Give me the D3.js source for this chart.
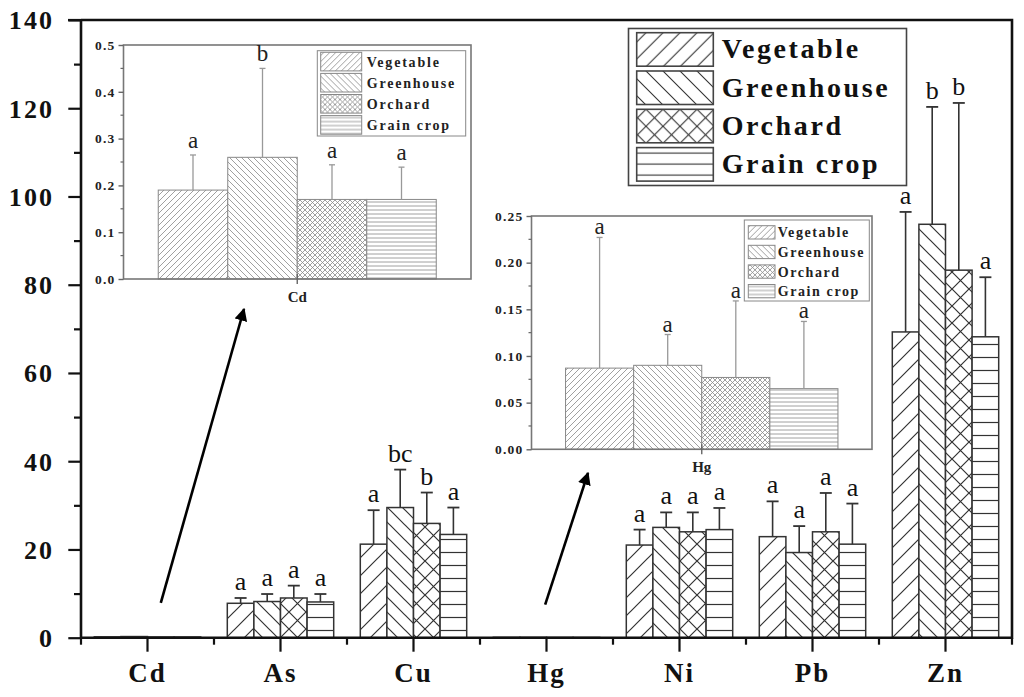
<!DOCTYPE html>
<html><head><meta charset="utf-8">
<script src="https://cdn.jsdelivr.net/npm/d3@7"></script>
<style>body{margin:0;background:#fff}svg{display:block}text{font-family:"Liberation Serif","Times New Roman",serif}</style>
</head><body><svg id="c" width="1024" height="697"></svg>
<script>
// ---------- data ----------
const elements = ["Cd","As","Cu","Hg","Ni","Pb","Zn"];
const series = ["Vegetable","Greenhouse","Orchard","Grain crop"];
const vegetable      = [0.190, 7.8, 21.2, 0.087, 21.0, 22.9, 69.3];
const greenhouse     = [0.260, 8.2, 29.5, 0.090, 25.0, 19.3, 93.7];
const orchard        = [0.170, 9.0, 25.9, 0.077, 24.0, 24.0, 83.3];
const graincrop      = [0.170, 8.1, 23.4, 0.065, 24.5, 21.2, 68.2];
// upper end of error bars
const vegetableUp    = [0.265, 9.0, 28.9, 0.227, 24.5, 30.9, 96.5];
const greenhouseUp   = [0.450, 9.9, 38.1, 0.123, 28.4, 25.3, 120.3];
const orchardUp      = [0.244, 11.8, 32.9, 0.159, 28.4, 32.8, 121.2];
const graincropUp    = [0.239, 9.9, 29.5, 0.137, 29.4, 30.4, 81.7];
// significance letters
const vegetableLet   = ["a","a","a","a","a","a","a"];
const greenhouseLet  = ["b","a","bc","a","a","a","b"];
const orchardLet     = ["a","a","b","a","a","a","b"];
const graincropLet   = ["a","a","a","a","a","a","a"];
const mainTicks  = [0,20,40,60,80,100,120,140];
const cdTicks    = [0,0.1,0.2,0.3,0.4,0.5];
const hgTicks    = [0,0.05,0.10,0.15,0.20,0.25];
const insetElements = ["Cd","Hg"];

const means = [vegetable, greenhouse, orchard, graincrop];
const ups = [vegetableUp, greenhouseUp, orchardUp, graincropUp];
const lets = [vegetableLet, greenhouseLet, orchardLet, graincropLet];
const patKeys = ["veg","grn","orc","gra"];
const rows = [];
elements.forEach((e,i)=>series.forEach((s,j)=>rows.push({el:e,s:s,j:j,v:means[j][i],up:ups[j][i],lt:lets[j][i]})));

const svg = d3.select("#c");
const defs = svg.append("defs");

function makePatterns(prefix, sizes, color, sw){
  const [a,b,c,d] = sizes;
  const mk = (id,s,path)=>{
    const p = defs.append("pattern").attr("id",prefix+id).attr("patternUnits","userSpaceOnUse").attr("width",s).attr("height",s);
    p.append("rect").attr("width",s).attr("height",s).attr("fill","#fff");
    p.append("path").attr("d",path).attr("stroke",color).attr("stroke-width",sw).attr("fill","none");
  };
  const fw = s=>`M0,${s}L${s},0M${-s/2},${s/2}L${s/2},${-s/2}M${s/2},${1.5*s}L${1.5*s},${s/2}`;
  const bw = s=>`M0,0L${s},${s}M${-s/2},${s/2}L${s/2},${1.5*s}M${s/2},${-s/2}L${1.5*s},${s/2}`;
  mk("veg",a,fw(a));
  mk("grn",b,bw(b));
  mk("orc",c,fw(c)+bw(c));
  mk("gra",d,`M0,${d/2}L${d},${d/2}`);
}
makePatterns("m-",[18,15,17,13],"#333",1.2);
makePatterns("l-",[17,17,17,11],"#333",1.1);
makePatterns("i-",[6,6,5,4],"#888",0.8);

// ---------- main chart ----------
const x = d3.scaleBand().domain(elements).range([81,1012]);
const xi = d3.scaleBand().domain(series).range([x.bandwidth()*0.1, x.bandwidth()*0.9]);
const y = d3.scaleLinear().domain([0,140]).range([637.7,20]);

const main = svg.append("g");
main.selectAll("rect.bar").data(rows).join("rect").attr("class","bar")
  .attr("x",d=>x(d.el)+xi(d.s)).attr("width",xi.bandwidth())
  .attr("y",d=>y(d.v)).attr("height",d=>y(0)-y(d.v))
  .attr("fill",d=>`url(#m-${patKeys[d.j]})`).attr("stroke","#333").attr("stroke-width",1.5);

const mainRows = rows.filter(d=>!insetElements.includes(d.el));
const eb = main.selectAll("g.eb").data(mainRows).join("g").attr("class","eb");
eb.append("line").attr("x1",d=>x(d.el)+xi(d.s)+xi.bandwidth()/2).attr("x2",d=>x(d.el)+xi(d.s)+xi.bandwidth()/2)
  .attr("y1",d=>y(d.v)).attr("y2",d=>y(d.up)).attr("stroke","#333").attr("stroke-width",1.6);
eb.append("line").attr("x1",d=>x(d.el)+xi(d.s)+xi.bandwidth()/2-6).attr("x2",d=>x(d.el)+xi(d.s)+xi.bandwidth()/2+6)
  .attr("y1",d=>y(d.up)).attr("y2",d=>y(d.up)).attr("stroke","#333").attr("stroke-width",1.8);
eb.append("text").attr("x",d=>x(d.el)+xi(d.s)+xi.bandwidth()/2).attr("y",d=>y(d.up)-8)
  .attr("text-anchor","middle").attr("font-size",26).attr("fill","#111").text(d=>d.lt);

// axes
const yAx = main.append("g").attr("transform","translate(81,0)")
  .call(d3.axisLeft(y).tickValues(mainTicks).tickSize(12.7).tickPadding(14));
const yMin = main.append("g").attr("transform","translate(81,0)")
  .call(d3.axisLeft(y).tickValues(d3.range(10,140,20)).tickSize(7).tickFormat(""));
[yAx,yMin].forEach(g=>{g.select(".domain").remove(); g.selectAll("line").attr("stroke","#111").attr("stroke-width",2.2);});
yAx.selectAll("text").attr("font-family","Liberation Serif").attr("font-weight","bold").attr("font-size",26)
  .attr("fill","#111").attr("letter-spacing",2.2).attr("dy","0.34em");

const xAx = main.append("g").attr("transform",`translate(0,${y(0)})`)
  .call(d3.axisBottom(x).tickSize(14).tickPadding(11));
xAx.select(".domain").remove();
xAx.selectAll("line").attr("stroke","#111").attr("stroke-width",2.2);
xAx.selectAll("text").attr("font-family","Liberation Serif").attr("font-weight","bold").attr("font-size",27)
  .attr("fill","#111").attr("letter-spacing",2);
main.append("g").selectAll("line").data(d3.range(elements.length+1)).join("line")
  .attr("x1",i=>81+i*x.step()).attr("x2",i=>81+i*x.step()).attr("y1",y(0)).attr("y2",y(0)+7)
  .attr("stroke","#111").attr("stroke-width",2.2);
// frame
main.append("path").attr("d",`M81,${y(140)}V${y(0)}H1012V${y(140)}H81`).attr("fill","none").attr("stroke","#111").attr("stroke-width",2.6);
main.append("line").attr("x1",68).attr("x2",81).attr("y1",y(140)).attr("y2",y(140)).attr("stroke","#111").attr("stroke-width",2.2);

// legend helper
function legend(g, o, pfx){
  g.append("rect").attr("x",o.bx).attr("y",o.by).attr("width",o.bw).attr("height",o.bh)
    .attr("fill","#fff").attr("stroke",o.stroke).attr("stroke-width",o.sw);
  const r = g.selectAll("g.lr").data(series).join("g").attr("class","lr")
    .attr("transform",(d,i)=>`translate(0,${o.ty+i*o.step})`);
  r.append("rect").attr("x",o.sx).attr("width",o.swW).attr("height",o.rh)
    .attr("fill",(d,i)=>`url(#${pfx}${patKeys[i]})`).attr("stroke",o.stroke).attr("stroke-width",o.sw);
  r.append("text").attr("x",o.tx).attr("y",o.rh/2+o.base).attr("font-weight","bold").attr("font-size",o.fs)
    .attr("letter-spacing",o.ls).attr("fill",o.tc).text(d=>d);
}
legend(svg.append("g"),{bx:628.5,by:28.5,bw:278,bh:157,ty:32.7,step:38.3,rh:33.5,sx:636.7,swW:76.6,tx:721.7,fs:28,ls:2.6,base:9,stroke:"#444",sw:1.6,tc:"#111"},"l-");

// ---------- insets ----------
function inset(el, o){
  const idx = elements.indexOf(el);
  const data = series.map((s,j)=>({s:s,j:j,v:means[j][idx],up:ups[j][idx],lt:lets[j][idx]}));
  const g = svg.append("g");
  const ix = d3.scaleBand().domain([el]).range([o.x0,o.x1]);
  const ixi = d3.scaleBand().domain(series).range([ix.bandwidth()*0.1, ix.bandwidth()*0.9]);
  const iy = d3.scaleLinear().domain(o.dom).range([o.y0,o.y1]);
  g.append("rect").attr("x",o.x0).attr("y",o.y1).attr("width",o.x1-o.x0).attr("height",o.y0-o.y1).attr("fill","#fff");
  g.selectAll("rect.ib").data(data).join("rect").attr("class","ib")
    .attr("x",d=>ix(el)+ixi(d.s)).attr("width",ixi.bandwidth()).attr("y",d=>iy(d.v)).attr("height",d=>iy(0)-iy(d.v))
    .attr("fill",d=>`url(#i-${patKeys[d.j]})`).attr("stroke","#888").attr("stroke-width",1);
  const cx = d=>ix(el)+ixi(d.s)+ixi.bandwidth()/2;
  g.selectAll("line.ie").data(data).join("line").attr("class","ie").attr("x1",cx).attr("x2",cx)
    .attr("y1",d=>iy(d.v)).attr("y2",d=>iy(d.up)).attr("stroke","#999").attr("stroke-width",1.3);
  g.selectAll("line.ic").data(data).join("line").attr("class","ic").attr("x1",d=>cx(d)-3).attr("x2",d=>cx(d)+3)
    .attr("y1",d=>iy(d.up)).attr("y2",d=>iy(d.up)).attr("stroke","#999").attr("stroke-width",1.3);
  // frame
  g.append("rect").attr("x",o.x0).attr("y",o.y1).attr("width",o.x1-o.x0).attr("height",o.y0-o.y1)
    .attr("fill","none").attr("stroke","#777").attr("stroke-width",1.6);
  const ax = g.append("g").attr("transform",`translate(${o.x0},0)`)
    .call(d3.axisLeft(iy).tickValues(o.ticks).tickSize(5).tickPadding(3).tickFormat(d3.format(o.fmt)));
  ax.select(".domain").remove();
  ax.selectAll("line").attr("stroke","#666").attr("stroke-width",1.4);
  ax.selectAll("text").attr("font-family","Liberation Serif").attr("font-weight","bold").attr("font-size",13.5)
    .attr("letter-spacing",1.2).attr("fill","#222");
  const step = o.ticks[1]-o.ticks[0];
  g.append("g").selectAll("line").data(o.ticks.slice(0,-1).map(t=>t+step/2)).join("line")
    .attr("x1",o.x0-3).attr("x2",o.x0).attr("y1",d=>iy(d)).attr("y2",d=>iy(d)).attr("stroke","#666").attr("stroke-width",1.2);
  g.append("line").attr("x1",ix(el)+ix.bandwidth()/2).attr("x2",ix(el)+ix.bandwidth()/2)
    .attr("y1",o.y0-5).attr("y2",o.y0+5).attr("stroke","#666").attr("stroke-width",1.4);
  g.append("text").attr("x",ix(el)+ix.bandwidth()/2).attr("y",o.y0+o.xl).attr("text-anchor","middle")
    .attr("font-weight","bold").attr("font-size",15).attr("fill","#222").text(el);
  legend(g,o.lg2,"i-");
  g.selectAll("text.il").data(data).join("text").attr("class","il").attr("x",cx).attr("y",d=>iy(d.up)-o.lg)
    .attr("text-anchor","middle").attr("font-size",23).attr("fill","#222").text(d=>d.lt);
}
inset("Cd",{x0:123.5,x1:471,y0:279,y1:45,dom:[0,0.5],ticks:cdTicks,fmt:".1f",lg:7,xl:23,
  lg2:{bx:317.3,by:50.7,bw:148.4,bh:85.3,ty:52.3,step:21.1,rh:18.6,sx:320.7,swW:41,tx:366.7,fs:14,ls:1.8,base:5,stroke:"#888",sw:1,tc:"#222"}});
inset("Hg",{x0:531.5,x1:872,y0:449.3,y1:216,dom:[0,0.25],ticks:hgTicks,fmt:".2f",lg:3,xl:23,
  lg2:{bx:744.3,by:220,bw:125,bh:81,ty:225.7,step:19.6,rh:13.3,sx:748.3,swW:26.7,tx:777.7,fs:14,ls:1.6,base:5,stroke:"#888",sw:1,tc:"#222"}});

// ---------- arrows ----------
defs.append("marker").attr("id","ah").attr("viewBox","0 0 10 10").attr("refX",9).attr("refY",5)
  .attr("markerWidth",5).attr("markerHeight",5).attr("orient","auto")
  .append("path").attr("d","M0,0L10,5L0,10z").attr("fill","#000");
const arrows = [
  {x1:x("Cd")+x.bandwidth()*0.6, y1:y(7.9), x2:244, y2:309},
  {x1:x("Hg")+x.bandwidth()*0.49, y1:y(7.5), x2:588, y2:473}
];
svg.selectAll("line.ar").data(arrows).join("line").attr("class","ar")
  .attr("x1",d=>d.x1).attr("y1",d=>d.y1).attr("x2",d=>d.x2).attr("y2",d=>d.y2)
  .attr("stroke","#000").attr("stroke-width",2.6).attr("marker-end","url(#ah)");
</script></body></html>
